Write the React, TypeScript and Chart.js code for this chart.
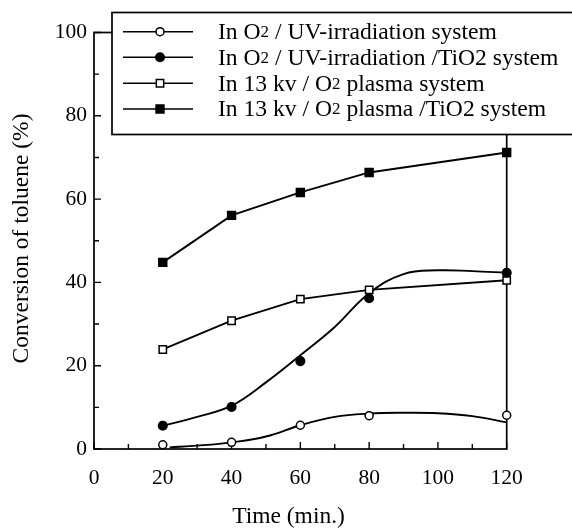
import { useEffect, useRef } from 'react';
import { Chart, registerables } from 'chart.js';

Chart.register(...registerables);

// Sampling times (min.)
const times = [20, 40, 60, 80, 120];

// Measured toluene conversion (%) for each system
const uvO2 = [1.0, 1.6, 5.7, 8.0, 8.1];
const uvTiO2 = [5.6, 10.1, 21.1, 36.2, 42.3];
const plasmaO2 = [23.9, 30.8, 36.0, 38.2, 40.5];
const plasmaTiO2 = [44.8, 56.1, 61.6, 66.4, 71.2];

// Smoothed trend curves drawn through the UV data
const uvO2FitTimes = [22, 30, 40, 50, 60, 70, 80, 90, 100, 110, 120];
const uvO2Fit = [0.4, 0.8, 1.6, 3.0, 5.7, 7.7, 8.5, 8.7, 8.6, 7.9, 6.4];
const uvTiO2FitTimes = [20, 30, 40, 50, 60, 70, 80, 90, 100, 110, 120];
const uvTiO2Fit = [5.6, 7.7, 10.4, 16.0, 22.5, 29.3, 37.4, 42.0, 42.9, 42.7, 42.3];

const xTicks = [0, 20, 40, 60, 80, 100, 120];
const yTicks = [0, 20, 40, 60, 80, 100];

const seriesLabels = [
  'In O2 / UV-irradiation system',
  'In O2 / UV-irradiation /TiO2 system',
  'In 13 kv / O2 plasma system',
  'In 13 kv / O2 plasma /TiO2 system',
];
const xTitle = 'Time (min.)';
const yTitle = 'Conversion of toluene (%)';

const FONT = '"Liberation Serif", "Times New Roman", serif';
const INK = '#000';

type Marker = { style: 'circle' | 'rect'; filled: boolean; radius: number };
const markers: Marker[] = [
  { style: 'circle', filled: false, radius: 4 },
  { style: 'circle', filled: true, radius: 4.3 },
  { style: 'rect', filled: false, radius: 5.2 },
  { style: 'rect', filled: true, radius: 5.6 },
];

const pts = (xs: number[], ys: number[]) => xs.map((x, i) => ({ x, y: ys[i] }));

function drawMarker(ctx: CanvasRenderingContext2D, m: Marker, x: number, y: number) {
  ctx.save();
  ctx.lineWidth = 1.5;
  ctx.strokeStyle = INK;
  ctx.fillStyle = m.filled ? INK : '#fff';
  ctx.beginPath();
  if (m.style === 'circle') {
    ctx.arc(x, y, m.radius, 0, Math.PI * 2);
  } else {
    const h = m.radius * Math.SQRT1_2;
    ctx.rect(x - h, y - h, 2 * h, 2 * h);
  }
  ctx.fill();
  ctx.stroke();
  ctx.restore();
}

// Draws a label where "O2" after a space gets a reduced-size "2"
function drawLabel(ctx: CanvasRenderingContext2D, text: string, x: number, y: number, size: number) {
  const parts = text.split(/(?<= O)2/);
  let cx = x;
  parts.forEach((part, i) => {
    ctx.font = `${size}px ${FONT}`;
    ctx.fillText(part, cx, y);
    cx += ctx.measureText(part).width;
    if (i < parts.length - 1) {
      ctx.font = `${Math.round(size * 0.72)}px ${FONT}`;
      ctx.fillText('2', cx, y);
      cx += ctx.measureText('2').width;
    }
  });
}

const framePlugin = {
  id: 'frameTicks',
  beforeDatasetsDraw(chart: any) {
    const { ctx, chartArea: a, scales } = chart;
    ctx.save();
    ctx.strokeStyle = INK;
    ctx.lineWidth = 1.7;
    ctx.strokeRect(a.left, a.top, a.right - a.left, a.bottom - a.top);
    ctx.lineWidth = 1.4;
    ctx.beginPath();
    for (let v = 0; v <= 120; v += 10) {
      const px = scales.x.getPixelForValue(v);
      const len = v % 20 === 0 ? 7 : 5;
      ctx.moveTo(px, a.bottom);
      ctx.lineTo(px, a.bottom - len);
    }
    for (let v = 0; v <= 100; v += 10) {
      const py = scales.y.getPixelForValue(v);
      const len = v % 20 === 0 ? 7 : 5;
      ctx.moveTo(a.left, py);
      ctx.lineTo(a.left + len, py);
    }
    ctx.stroke();
    ctx.restore();
  },
  afterDraw(chart: any) {
    const { ctx } = chart;
    ctx.save();
    ctx.fillStyle = INK;

    // Axis titles
    ctx.font = `23.5px ${FONT}`;
    ctx.textAlign = 'center';
    ctx.textBaseline = 'alphabetic';
    ctx.fillText(xTitle, 288.5, 523);
    ctx.save();
    ctx.translate(28, 238.5);
    ctx.rotate(-Math.PI / 2);
    ctx.fillText(yTitle, 0, 0);
    ctx.restore();

    // Legend box
    const boxLeft = 112;
    const boxTop = 12.5;
    const boxBottom = 134.5;
    ctx.fillStyle = '#fff';
    ctx.fillRect(boxLeft, boxTop, 600 - boxLeft, boxBottom - boxTop);
    ctx.strokeStyle = INK;
    ctx.lineWidth = 1.7;
    ctx.strokeRect(boxLeft, boxTop, 600 - boxLeft, boxBottom - boxTop);

    const rows = [31.7, 57.3, 83.3, 109];
    seriesLabels.forEach((label, i) => {
      const y = rows[i];
      ctx.strokeStyle = INK;
      ctx.lineWidth = 1.6;
      ctx.beginPath();
      ctx.moveTo(123, y);
      ctx.lineTo(193, y);
      ctx.stroke();
      drawMarker(ctx, markers[i], 160, y);
      ctx.fillStyle = INK;
      ctx.textAlign = 'left';
      ctx.textBaseline = 'middle';
      drawLabel(ctx, label, 218, y + 1, 23.6);
    });
    ctx.restore();
  },
};

export default function App() {
  const canvasRef = useRef<HTMLCanvasElement | null>(null);

  useEffect(() => {
    if (!canvasRef.current) return;
    const tickFont = { family: FONT, size: 21.5 };
    const markerSet = (m: Marker) => ({
      pointStyle: m.style,
      pointRadius: m.radius,
      pointHoverRadius: m.radius,
      pointBackgroundColor: m.filled ? INK : '#fff',
      pointBorderColor: INK,
      pointBorderWidth: 1.5,
    });

    const chart = new Chart(canvasRef.current, {
      type: 'line',
      data: {
        datasets: [
          {
            label: seriesLabels[0],
            data: pts(times, uvO2),
            showLine: false,
            clip: false,
            ...markerSet(markers[0]),
          },
          {
            label: seriesLabels[1],
            data: pts(times, uvTiO2),
            showLine: false,
            clip: false,
            ...markerSet(markers[1]),
          },
          {
            label: seriesLabels[2],
            data: pts(times, plasmaO2),
            borderColor: INK,
            borderWidth: 1.9,
            tension: 0,
            clip: false,
            ...markerSet(markers[2]),
          },
          {
            label: seriesLabels[3],
            data: pts(times, plasmaTiO2),
            borderColor: INK,
            borderWidth: 1.9,
            tension: 0,
            clip: false,
            ...markerSet(markers[3]),
          },
          {
            label: 'trend-uv',
            data: pts(uvO2FitTimes, uvO2Fit),
            borderColor: INK,
            borderWidth: 1.9,
            pointRadius: 0,
            tension: 0.4,
            clip: false,
          },
          {
            label: 'trend-uv-tio2',
            data: pts(uvTiO2FitTimes, uvTiO2Fit),
            borderColor: INK,
            borderWidth: 1.9,
            pointRadius: 0,
            tension: 0.4,
            clip: false,
          },
        ],
      },
      options: {
        responsive: false,
        animation: false,
        events: [],
        layout: { padding: { top: 32.5, right: 65.3, left: 0, bottom: 0 } },
        plugins: {
          legend: { display: false },
          tooltip: { enabled: false },
          title: { display: false },
        },
        scales: {
          x: {
            type: 'linear',
            min: 0,
            max: 120,
            afterBuildTicks: (s: any) => {
              s.ticks = xTicks.map((value) => ({ value }));
            },
            afterFit: (s: any) => {
              s.height = 79;
            },
            ticks: { color: INK, font: tickFont, padding: 16, maxRotation: 0 },
            grid: { display: false, drawTicks: false },
            border: { display: false },
          },
          y: {
            type: 'linear',
            min: 0,
            max: 100,
            afterBuildTicks: (s: any) => {
              s.ticks = yTicks.map((value) => ({ value }));
            },
            afterFit: (s: any) => {
              s.width = 94;
            },
            ticks: { color: INK, font: tickFont, padding: 7 },
            grid: { display: false, drawTicks: false },
            border: { display: false },
          },
        },
      },
      plugins: [framePlugin],
    } as any);

    return () => chart.destroy();
  }, []);

  return (
    <div style={{ position: 'absolute', left: 0, top: 0, width: 572, height: 528, background: '#fff' }}>
      <canvas ref={canvasRef} width={572} height={528} />
    </div>
  );
}
